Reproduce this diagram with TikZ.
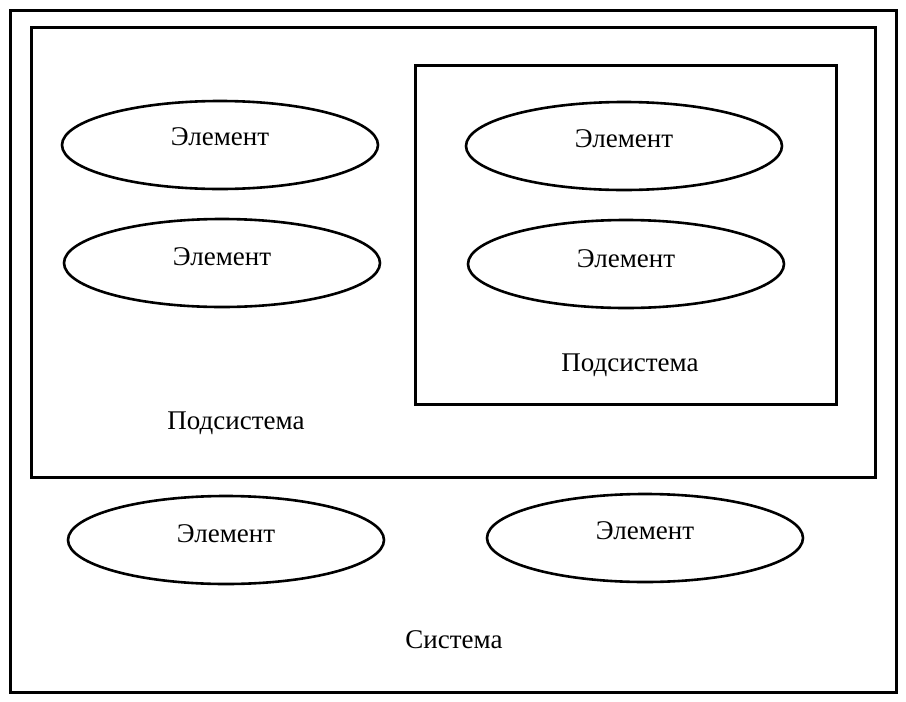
\documentclass[tikz,border=0pt]{standalone}
\usepackage{fontspec}
\setmainfont{Liberation Serif}
\usetikzlibrary{shapes.geometric}

\tikzset{
  frame/.style={draw=black, line width=1.5pt},
  elem/.style={draw=black, line width=1.3pt, ellipse, minimum width=158pt,
               minimum height=44pt, inner sep=0pt},
  lbl/.style={font=\fontsize{13.5}{16}\selectfont, inner sep=0pt}
}

\begin{document}
\begin{tikzpicture}[x=0.5pt, y=-0.5pt]

% ================================================================
%  Marco 906 x 702 px (1 px = 0.5 pt)
% ================================================================
\useasboundingbox (0,0) rectangle (906,702);
\fill[white] (0,0) rectangle (906,702);

% Sistema, subsistema y subsistema interior
\draw[frame] (10,10)  rectangle (896,692);
\draw[frame] (31,27)  rectangle (875,477);
\draw[frame] (415,65) rectangle (836,404);

% Elementos
\node[elem] (el1) at (220,145) {};
\node[elem] (el2) at (222,263) {};
\node[elem] (el3) at (624,146) {};
\node[elem] (el4) at (626,264) {};
\node[elem] (el5) at (226,540) {};
\node[elem] (el6) at (645,538) {};

% Textos de los elementos (un poco por encima del centro)
\node[lbl] (t1) at (220,137) {Элемент};
\node[lbl] (t2) at (222,257) {Элемент};
\node[lbl] (t3) at (624,139) {Элемент};
\node[lbl] (t4) at (626,259) {Элемент};
\node[lbl] (t5) at (226,534) {Элемент};
\node[lbl] (t6) at (645,531) {Элемент};

% Nombres de los sistemas
\node[lbl] (sub2) at (630,365) {Подсистема};
\node[lbl] (sub1) at (236,423) {Подсистема};
\node[lbl] (sys)  at (454,640) {Система};

\end{tikzpicture}
\end{document}
